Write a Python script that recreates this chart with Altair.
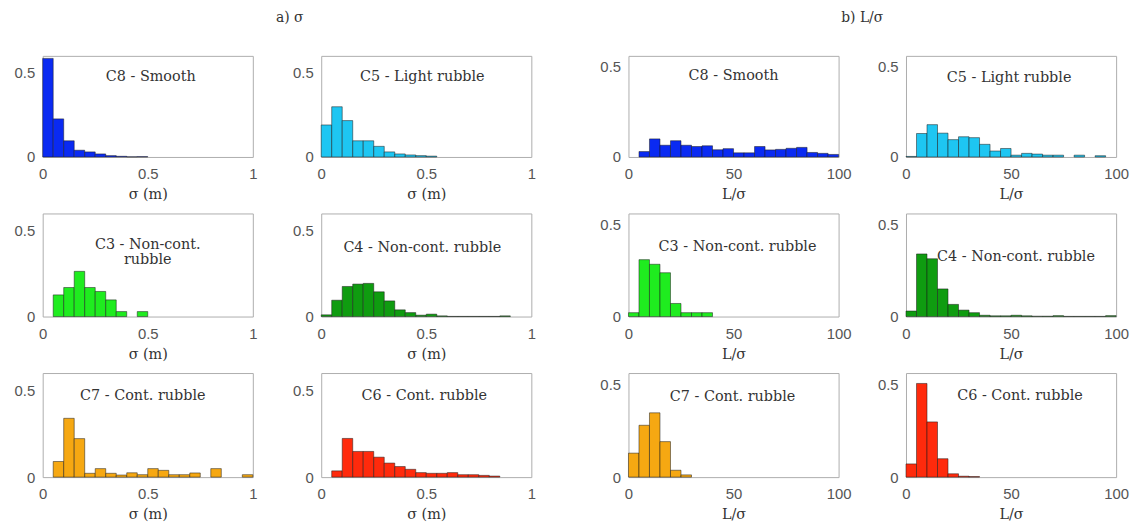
import altair as alt
import pandas as pd

# ---------------- data ----------------
SIGMA_BINS = [0.00, 0.05, 0.10, 0.15, 0.20, 0.25, 0.30, 0.35, 0.40, 0.45,
              0.50, 0.55, 0.60, 0.65, 0.70, 0.75, 0.80, 0.85, 0.90, 0.95]
LS_BINS = [0, 5, 10, 15, 20, 25, 30, 35, 40, 45,
           50, 55, 60, 65, 70, 75, 80, 85, 90, 95]
SIGMA_STEP = 0.05
LS_STEP = 5

# sigma histograms (fraction per bin)
sig_c8 = [0.585, 0.226, 0.096, 0.040, 0.030, 0.018, 0.008, 0.004, 0.001, 0.002,
          0, 0, 0, 0, 0, 0, 0, 0, 0, 0]
sig_c5 = [0.190, 0.298, 0.216, 0.096, 0.096, 0.063, 0.030, 0.018, 0.012, 0.008,
          0.005, 0, 0, 0, 0, 0, 0, 0, 0, 0]
sig_c3 = [0, 0.126, 0.169, 0.263, 0.169, 0.146, 0.097, 0.029, 0, 0.029,
          0, 0, 0, 0, 0, 0, 0, 0, 0, 0]
sig_c4 = [0.010, 0.095, 0.175, 0.189, 0.193, 0.144, 0.091, 0.039, 0.023, 0.008,
          0.014, 0.004, 0.001, 0.001, 0.001, 0.001, 0.001, 0.004, 0, 0]
sig_c7 = [0, 0.090, 0.339, 0.222, 0.022, 0.049, 0.022, 0.012, 0.025, 0.014,
          0.049, 0.039, 0.014, 0.014, 0.024, 0, 0.049, 0, 0, 0.014]
sig_c6 = [0, 0.036, 0.223, 0.148, 0.148, 0.115, 0.081, 0.061, 0.045, 0.026,
          0.022, 0.022, 0.026, 0.014, 0.014, 0.010, 0.006, 0, 0, 0]

# L/sigma histograms (fraction per bin)
ls_c8 = [0, 0.030, 0.100, 0.065, 0.090, 0.065, 0.058, 0.062, 0.040, 0.046,
         0.023, 0.023, 0.058, 0.039, 0.042, 0.048, 0.053, 0.025, 0.020, 0.014]
ls_c5 = [0.003, 0.130, 0.179, 0.132, 0.096, 0.112, 0.107, 0.070, 0.033, 0.047,
         0.010, 0.020, 0.016, 0.010, 0.010, 0, 0.010, 0, 0.007, 0]
ls_c3 = [0.021, 0.309, 0.284, 0.238, 0.071, 0.021, 0.021, 0.021, 0, 0,
         0, 0, 0, 0, 0, 0, 0, 0, 0, 0]
ls_c4 = [0.030, 0.340, 0.314, 0.150, 0.066, 0.035, 0.021, 0.007, 0.004, 0.004,
         0.007, 0.004, 0.002, 0.002, 0.005, 0.001, 0.001, 0.001, 0.001, 0.005]
ls_c7 = [0.129, 0.279, 0.346, 0.191, 0.037, 0.012, 0, 0, 0, 0,
         0, 0, 0, 0, 0, 0, 0, 0, 0, 0]
ls_c6 = [0.071, 0.504, 0.297, 0.099, 0.018, 0.005, 0.003, 0, 0, 0,
         0, 0, 0, 0, 0, 0, 0, 0, 0, 0]

labels = {
    "C8": "C8 - Smooth",
    "C5": "C5 - Light rubble",
    "C3a": "C3 - Non-cont.\nrubble",
    "C3b": "C3 - Non-cont. rubble",
    "C4": "C4 - Non-cont. rubble",
    "C7": "C7 - Cont. rubble",
    "C6": "C6 - Cont. rubble",
}
colors = {
    "C8": "#0a2af2",
    "C5": "#1ec6f2",
    "C3": "#1fec1f",
    "C4": "#0f9c10",
    "C7": "#f6a812",
    "C6": "#ff2a0c",
}

# ---------------- styles ----------------
W = 212
ROW_H = [102, 104, 105]
SERIF = "DejaVu Serif"
SANS = "Liberation Sans"


def panel(values, bins, step, color, label, xdom, ydom, xticks, xfmt, xtitle,
          h, dx, dy):
    df = pd.DataFrame({
        "start": bins,
        "end": [b + step for b in bins],
        "frac": values,
    })
    df = df[df["frac"] > 0]
    bars = alt.Chart(df).mark_rect(
        color=color, stroke="#1a1a1a", strokeWidth=0.6, strokeOpacity=0.85
    ).encode(
        x=alt.X("start:Q",
                scale=alt.Scale(domain=xdom, nice=False, zero=False),
                axis=alt.Axis(values=xticks, title=xtitle, labelFlush=False,
                              format=xfmt)),
        x2="end:Q",
        y=alt.Y("frac:Q",
                scale=alt.Scale(domain=ydom, nice=False),
                axis=alt.Axis(values=[0, 0.5], title=None, format="~g")),
        y2=alt.datum(0),
    )
    txt = alt.Chart(pd.DataFrame({"t": [label]})).mark_text(
        font=SERIF, fontSize=14.5, color="#333333", align="center",
        baseline="middle", lineBreak="\n", lineHeight=15,
    ).encode(x=alt.value(W / 2 + dx), y=alt.value(dy), text="t:N")
    return alt.layer(bars, txt).properties(width=W, height=h)


SX = [0, 1]
SY = [0, 0.6]
LX = [0, 100]
LY = [0, 0.56]
ST = "σ (m)"
LT = "L/σ"
STK = [0, 0.5, 1]
LTK = [0, 50, 100]

p1 = panel(sig_c8, SIGMA_BINS, SIGMA_STEP, colors["C8"], labels["C8"], SX, SY, STK, "~g", ST, ROW_H[0], 3, 21)
p2 = panel(sig_c5, SIGMA_BINS, SIGMA_STEP, colors["C5"], labels["C5"], SX, SY, STK, "~g", ST, ROW_H[0], -4, 21)
p5 = panel(sig_c3, SIGMA_BINS, SIGMA_STEP, colors["C3"], labels["C3a"], SX, SY, STK, "~g", ST, ROW_H[1], 0, 32)
p6 = panel(sig_c4, SIGMA_BINS, SIGMA_STEP, colors["C4"], labels["C4"], SX, SY, STK, "~g", ST, ROW_H[1], -4, 35)
p9 = panel(sig_c7, SIGMA_BINS, SIGMA_STEP, colors["C7"], labels["C7"], SX, SY, STK, "~g", ST, ROW_H[2], -5, 23)
p10 = panel(sig_c6, SIGMA_BINS, SIGMA_STEP, colors["C6"], labels["C6"], SX, SY, STK, "~g", ST, ROW_H[2], -2, 23)

p3 = panel(ls_c8, LS_BINS, LS_STEP, colors["C8"], labels["C8"], LX, LY, LTK, "d", LT, ROW_H[0], 0, 20)
p4 = panel(ls_c5, LS_BINS, LS_STEP, colors["C5"], labels["C5"], LX, LY, LTK, "d", LT, ROW_H[0], -2, 22)
p7 = panel(ls_c3, LS_BINS, LS_STEP, colors["C3"], labels["C3b"], LX, LY, LTK, "d", LT, ROW_H[1], 4, 34)
p8 = panel(ls_c4, LS_BINS, LS_STEP, colors["C4"], labels["C4"], LX, LY, LTK, "d", LT, ROW_H[1], 5, 44)
p11 = panel(ls_c7, LS_BINS, LS_STEP, colors["C7"], labels["C7"], LX, LY, LTK, "d", LT, ROW_H[2], -1, 24)
p12 = panel(ls_c6, LS_BINS, LS_STEP, colors["C6"], labels["C6"], LX, LY, LTK, "d", LT, ROW_H[2], 9, 23)

HS_A = 34
HS_B = 24
VS = 11

groupA = alt.vconcat(
    alt.hconcat(p1, p2, spacing=HS_A),
    alt.hconcat(p5, p6, spacing=HS_A),
    alt.hconcat(p9, p10, spacing=HS_A),
    spacing=VS,
).properties(title=alt.TitleParams("a) σ", offset=31, dx=15, anchor="middle"))

groupB = alt.vconcat(
    alt.hconcat(p3, p4, spacing=HS_B),
    alt.hconcat(p7, p8, spacing=HS_B),
    alt.hconcat(p11, p12, spacing=HS_B),
    spacing=VS,
).properties(title=alt.TitleParams("b) L/σ", offset=31, dx=-2, anchor="middle"))

chart = alt.hconcat(groupA, groupB, spacing=63).properties(
    padding={"left": 5, "top": 0, "right": 0, "bottom": 0}
).configure_view(
    stroke="#adadad", strokeWidth=1
).configure_axis(
    labelFont=SANS, labelFontSize=15, labelColor="#555555",
    titleFont=SERIF, titleFontSize=14.5, titleColor="#333333",
    titleFontWeight="normal", ticks=False, domain=False, grid=False,
).configure_axisX(
    labelPadding=10, titlePadding=6,
).configure_axisY(
    labelPadding=8,
).configure_title(
    font=SERIF, fontSize=14, color="#333333", fontWeight="normal",
)

chart.save("out.html", embed_options={"renderer": "svg", "actions": False})
